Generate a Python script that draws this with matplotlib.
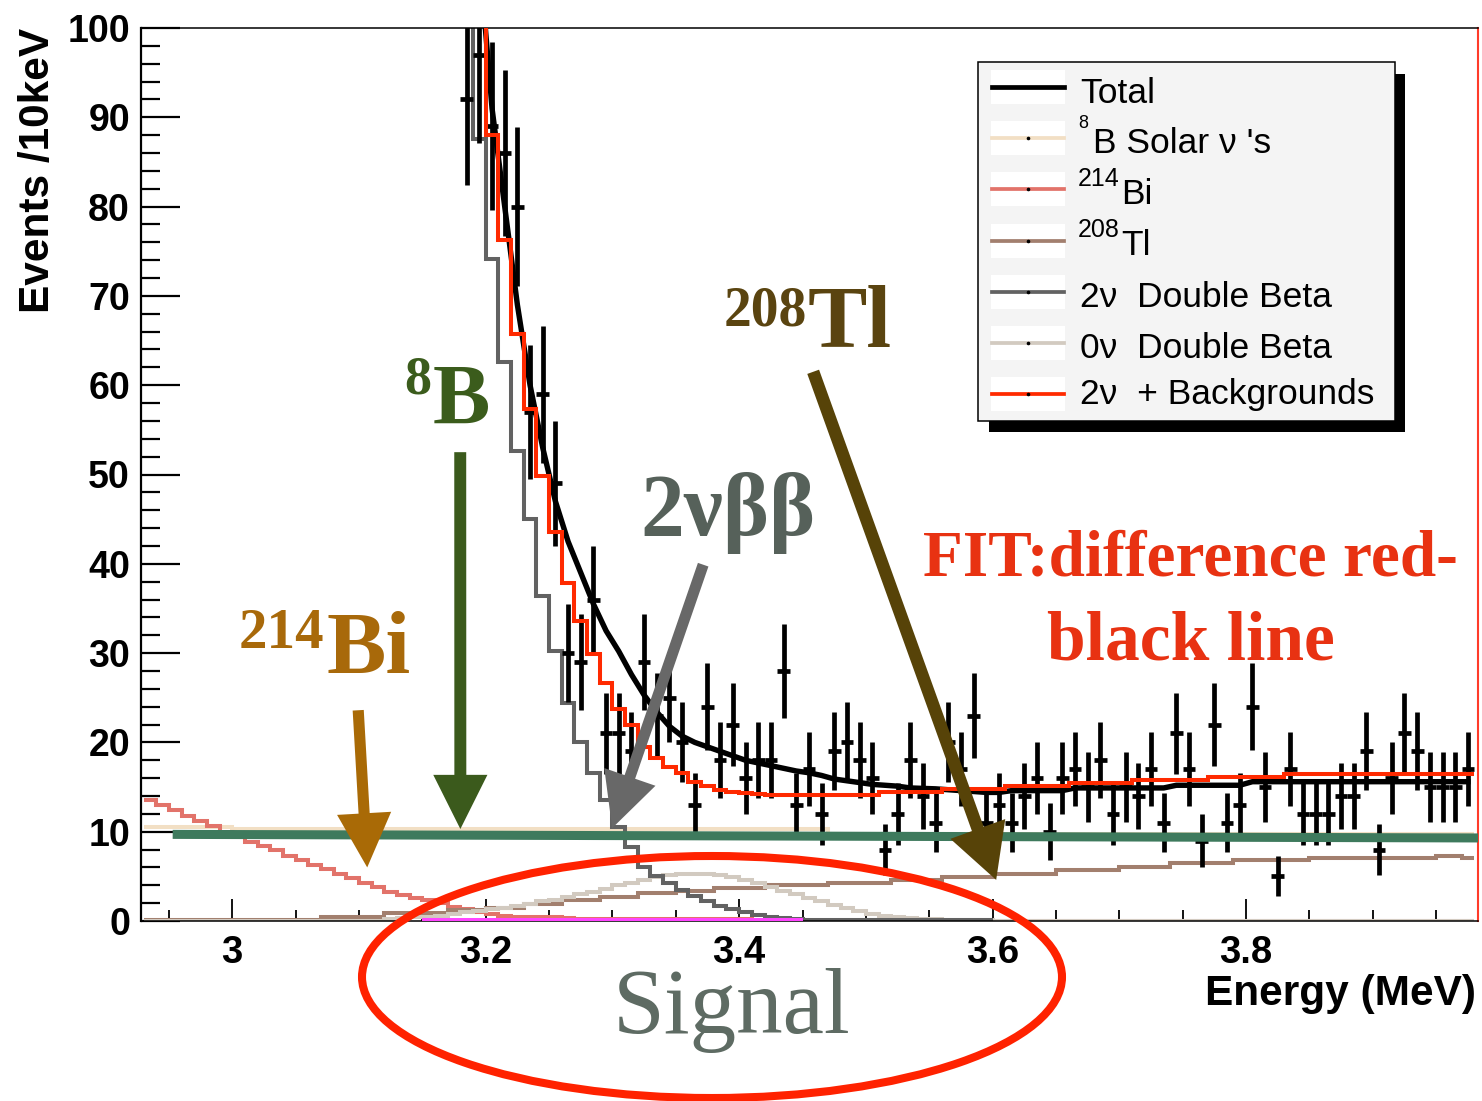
import numpy as np
import matplotlib
matplotlib.use("Agg")
import matplotlib.pyplot as plt
from matplotlib.patches import Rectangle, Ellipse
from matplotlib.ticker import MultipleLocator, FixedLocator, FixedFormatter

plt.rcParams['font.family'] = ['Liberation Sans', 'DejaVu Sans']

# ---------------- spectrum data (10 keV bins) ----------------
first_edge = 2.93
bin_width = 0.01

# 8B solar neutrinos, bins from 2.93 MeV
solar_8b = [
    10.5, 10.5, 10.5, 10.5, 10.5, 10.5, 10.5, 10.25, 10.25, 10.25,
    10.25, 10.25, 10.25, 10.25, 10.25, 10.25, 10.25, 10.25, 10.25, 10.25,
    10.25, 10.25, 10.25, 10.25, 10.25, 10.25, 10.25, 10.25, 10.25, 10.25,
    10.25, 10.25, 10.25, 10.25, 10.25, 10.25, 10.25, 10.25, 10.25, 10.25,
    10.25, 10.25, 10.25, 10.25, 10.25, 10.25, 10.25, 10.25, 10.25, 10.25,
    10.25, 10.25, 10.25, 10.25, 9.7, 9.7, 9.7, 9.7, 9.7, 9.7,
    9.7, 9.7, 9.7, 9.7, 9.7, 9.7, 9.7, 9.7, 9.7, 9.7,
    9.7, 9.7, 9.7, 9.7, 9.7, 9.7, 9.7, 9.7, 9.7, 9.7,
    9.7, 9.7, 9.7, 9.7, 9.7, 9.7, 9.7, 9.7, 9.7, 9.7,
    9.7, 9.7, 9.7, 9.7, 9.7, 9.7, 9.7, 9.7, 9.7, 9.7,
    9.7, 9.7, 9.7, 9.7, 9.7,
]

# 214Bi, bins from 2.93 MeV
bi214 = [
    13.6, 13.0, 12.4, 11.8, 11.2, 10.6, 10.0, 9.5, 8.9, 8.4,
    7.9, 7.3, 6.8, 6.3, 5.8, 5.3, 4.8, 4.3, 3.8, 3.3,
    2.9, 2.6, 2.3, 2.0, 1.6, 1.3, 1.0, 0.8, 0.6, 0.5,
    0.45, 0.45, 0.4, 0.35, 0.25, 0.25, 0.25, 0.25, 0.25, 0.25,
    0.25, 0.25, 0.25, 0.25, 0.25, 0.25, 0.25, 0.25, 0.0, 0.0,
    0.0, 0.0, 0.0, 0.0, 0.0, 0.0, 0.0, 0.0, 0.0, 0.0,
    0.0, 0.0, 0.0, 0.0, 0.0, 0.0, 0.0, 0.0, 0.0, 0.0,
    0.0, 0.0, 0.0, 0.0, 0.0, 0.0, 0.0, 0.0, 0.0, 0.0,
    0.0, 0.0, 0.0, 0.0, 0.0, 0.0, 0.0, 0.0, 0.0, 0.0,
    0.0, 0.0, 0.0, 0.0, 0.0, 0.0, 0.0, 0.0, 0.0, 0.0,
    0.0, 0.0, 0.0, 0.0, 0.0,
]

# 208Tl, bins from 2.93 MeV
tl208 = [
    0.15, 0.15, 0.15, 0.15, 0.15, 0.15, 0.15, 0.15, 0.15, 0.15,
    0.15, 0.15, 0.15, 0.15, 0.5, 0.5, 0.5, 0.5, 0.5, 0.9,
    0.9, 0.9, 0.9, 0.9, 1.2, 1.2, 1.2, 1.5, 1.5, 1.5,
    1.9, 1.9, 1.9, 2.3, 2.3, 2.3, 2.7, 2.7, 2.7, 3.1,
    3.1, 3.1, 3.4, 3.4, 3.4, 3.7, 3.7, 3.7, 3.7, 4.0,
    4.0, 4.0, 4.0, 4.0, 4.3, 4.3, 4.3, 4.3, 4.3, 4.6,
    4.6, 4.6, 4.6, 4.9, 4.9, 4.9, 4.9, 5.3, 5.3, 5.3,
    5.3, 5.3, 5.7, 5.7, 5.7, 5.7, 5.7, 6.1, 6.1, 6.1,
    6.1, 6.5, 6.5, 6.5, 6.5, 6.5, 6.8, 6.8, 6.8, 6.8,
    6.8, 6.8, 7.1, 7.1, 7.1, 7.1, 7.1, 7.1, 7.1, 7.1,
    7.1, 7.1, 7.3, 7.3, 7.0,
]

# 0nu double beta, bins from 2.93 MeV
zeronu_bb = [
    0.0, 0.0, 0.0, 0.0, 0.0, 0.0, 0.0, 0.0, 0.0, 0.0,
    0.0, 0.0, 0.0, 0.0, 0.0, 0.0, 0.0, 0.0, 0.0, 0.2,
    0.3, 0.4, 0.5, 0.6, 0.8, 1.0, 1.1, 1.3, 1.5, 1.7,
    1.9, 2.2, 2.4, 2.7, 3.0, 3.3, 3.6, 4.0, 4.3, 4.6,
    4.9, 5.1, 5.3, 5.3, 5.3, 5.1, 4.9, 4.6, 4.2, 3.8,
    3.4, 3.0, 2.6, 2.2, 1.8, 1.4, 1.1, 0.8, 0.6, 0.45,
    0.35, 0.25, 0.2, 0.15, 0.1, 0.1, 0.1, 0.0, 0.0, 0.0,
    0.0, 0.0, 0.0, 0.0, 0.0, 0.0, 0.0, 0.0, 0.0, 0.0,
    0.0, 0.0, 0.0, 0.0, 0.0, 0.0, 0.0, 0.0, 0.0, 0.0,
    0.0, 0.0, 0.0, 0.0, 0.0, 0.0, 0.0, 0.0, 0.0, 0.0,
    0.0, 0.0, 0.0, 0.0, 0.0,
]

# 2nu double beta, bins from 3.17 MeV
twonu_start = 3.17
twonu_bb = [
    160.0, 130.0, 87.6, 74.1, 62.6, 52.6, 45.0, 36.4, 30.2, 24.4,
    20.0, 16.6, 13.6, 10.5, 8.3, 6.0, 5.0, 4.3, 3.5, 2.8,
    2.2, 1.7, 1.3, 1.0, 0.7, 0.5, 0.35, 0.2, 0.15, 0.1,
    0.1, 0.1, 0.1, 0.1, 0.1, 0.1, 0.1, 0.1, 0.1, 0.1,
    0.1, 0.1, 0.1,
]

# 2nu + backgrounds, bins from 3.18 MeV
sum_start = 3.18
twonu_plus_bkg = [
    140.0, 112.0, 88.0, 76.3, 65.7, 57.3, 49.8, 43.6, 37.9, 33.6,
    29.9, 26.7, 23.7, 22.0, 19.5, 18.3, 17.3, 16.6, 15.6, 15.1,
    14.7, 14.5, 14.3, 14.2, 14.1, 14.1, 14.1, 14.1, 14.1, 14.1,
    14.1, 14.1, 14.1, 14.4, 14.4, 14.4, 14.4, 14.4, 14.8, 14.8,
    14.8, 14.8, 14.8, 15.1, 15.1, 15.1, 15.1, 15.1, 15.4, 15.4,
    15.4, 15.4, 15.4, 15.8, 15.8, 15.8, 15.8, 15.8, 15.8, 16.1,
    16.1, 16.1, 16.1, 16.1, 16.1, 16.5, 16.5, 16.5, 16.5, 16.5,
    16.5, 16.5, 16.5, 16.5, 16.5, 16.5, 16.5, 16.5, 16.5, 16.5,
]

# total fit, bin centres from 3.195 MeV
total_start = 3.195
total_fit = [
    108.0, 91.0, 80.0, 69.0, 60.0, 53.0, 47.0, 42.5, 39.0, 35.5,
    32.5, 30.2, 27.6, 25.3, 23.4, 21.8, 20.7, 20.0, 19.5, 19.0,
    18.5, 18.0, 17.7, 17.4, 17.1, 16.8, 16.6, 16.3, 15.9, 15.7,
    15.5, 15.3, 15.2, 15.1, 14.9, 14.85, 14.8, 14.7, 14.6, 14.5,
    14.4, 14.4, 14.6, 14.6, 14.6, 14.6, 14.6, 14.9, 14.9, 14.9,
    14.9, 14.9, 14.9, 14.9, 14.9, 15.2, 15.2, 15.2, 15.2, 15.2,
    15.2, 15.6, 15.6, 15.6, 15.6, 15.6, 15.6, 15.6, 15.6, 15.6,
    15.6, 15.6, 15.6, 15.6, 15.6, 15.6, 15.6, 15.6, 15.6,
]

# measured events, bin centres from 3.185 MeV
data_start = 3.185
data_counts = [
    92, 97, 89, 86, 80, 57, 59, 49, 30, 29,
    36, 21, 21, 19, 29, 23, 25, 20, 13, 24,
    18, 22, 16, 18, 18, 28, 13, 17, 12, 19,
    20, 18, 16, 8, 12, 18, 14, 11, 20, 17,
    23, 11, 13, 11, 14, 16, 10, 16, 17, 15,
    18, 12, 15, 14, 17, 11, 21, 17, 9, 22,
    11, 13, 24, 15, 5, 17, 12, 12, 12, 14,
    14, 19, 8, 16, 21, 19, 15, 15, 15, 17,
]

# small component along the baseline, bins from 3.15 MeV
extra_start = 3.15
extra_bkg = [
    0.15, 0.15, 0.15, 0.15, 0.15, 0.15, 0.15, 0.15, 0.15, 0.15,
    0.15, 0.15, 0.15, 0.15, 0.15, 0.15, 0.15, 0.15, 0.15, 0.15,
    0.15, 0.15, 0.15, 0.15, 0.15, 0.15, 0.15, 0.15, 0.15, 0.15,
]

x_ticks = [3.0, 3.2, 3.4, 3.6, 3.8]
x_tick_labels = ['3', '3.2', '3.4', '3.6', '3.8']
y_ticks = [0, 10, 20, 30, 40, 50, 60, 70, 80, 90, 100]
y_tick_labels = ['0', '10', '20', '30', '40', '50', '60', '70', '80', '90', '100']

legend_labels = ['Total', 'B Solar ν \'s', 'Bi', 'Tl', '2ν  Double Beta',
                 '0ν  Double Beta', '2ν  + Backgrounds']
legend_sups = ['', '8', '214', '208', '', '', '']

# ---------------- colours ----------------
c_total = 'black'
c_8b = '#f2dfc4'
c_bi = '#e2736a'
c_tl = '#a27f6e'
c_2nu = '#626262'
c_0nu = '#d2cac0'
c_sum = '#ff2a00'
c_extra = '#ff44ff'

# ---------------- figure ----------------
W, H = 1482, 1101
fig = plt.figure(figsize=(W / 100, H / 100), dpi=100)
fig.patch.set_facecolor('white')


def fx(px):
    return px / W


def fy(py):
    return 1 - py / H


ax = fig.add_axes([fx(141), fy(921), fx(1478) - fx(141), fy(28) - fy(921)])
ax.set_xlim(2.928, 3.983)
ax.set_ylim(0, 100)


def edges(start, n):
    return np.round(start + bin_width * np.arange(n + 1), 4)


lw_h = 2.9
ax.stairs(solar_8b, edges(first_edge, len(solar_8b)), baseline=None, color=c_8b, lw=lw_h, zorder=2)
ax.stairs(bi214, edges(first_edge, len(bi214)), baseline=None, color=c_bi, lw=lw_h, zorder=2.1)
ax.stairs(tl208, edges(first_edge, len(tl208)), baseline=None, color=c_tl, lw=lw_h, zorder=2.2)
ax.stairs(zeronu_bb, edges(first_edge, len(zeronu_bb)), baseline=None, color=c_0nu, lw=lw_h, zorder=2.3)
ax.stairs(twonu_bb, edges(twonu_start, len(twonu_bb)), baseline=None, color=c_2nu, lw=lw_h, zorder=2.5)
ax.stairs(extra_bkg, edges(extra_start, len(extra_bkg)), baseline=None, color=c_extra, lw=lw_h, zorder=2.6)

total_x = np.round(total_start + bin_width * np.arange(len(total_fit)), 4)
ax.plot(total_x, total_fit, color=c_total, lw=3.9, zorder=3, solid_joinstyle='round')

data_x = np.round(data_start + bin_width * np.arange(len(data_counts)), 4)
data_y = np.array(data_counts, dtype=float)
ax.errorbar(data_x, data_y, yerr=np.sqrt(data_y), xerr=bin_width / 2, fmt='none',
            ecolor='black', elinewidth=3.4, capsize=0, zorder=3.5)

ax.stairs(twonu_plus_bkg, edges(sum_start, len(twonu_plus_bkg)), baseline=None,
          color=c_sum, lw=lw_h, zorder=4)

# ---------------- axes styling ----------------
ax.xaxis.set_major_locator(FixedLocator(x_ticks))
ax.xaxis.set_major_formatter(FixedFormatter(x_tick_labels))
ax.xaxis.set_minor_locator(MultipleLocator(0.05))
ax.yaxis.set_major_locator(FixedLocator(y_ticks))
ax.yaxis.set_major_formatter(FixedFormatter(y_tick_labels))
ax.yaxis.set_minor_locator(MultipleLocator(2))
ax.tick_params(axis='y', which='major', direction='in', length=28, width=1.6, pad=8, labelsize=27)
ax.tick_params(axis='y', which='minor', direction='in', length=14, width=1.6)
ax.tick_params(axis='x', which='major', direction='in', length=16, width=1.3, pad=10, labelsize=27.5)
ax.tick_params(axis='x', which='minor', direction='in', length=8, width=1.3)
ax.tick_params(top=False, right=False, which='both')
for lab in ax.get_xticklabels() + ax.get_yticklabels():
    lab.set_fontweight('bold')
ax.spines['left'].set_linewidth(1.6)
ax.spines['top'].set_linewidth(1.1)
ax.spines['bottom'].set_linewidth(1.1)
ax.spines['right'].set_linewidth(1.5)
ax.spines['right'].set_color('#ff3b2a')

fig.text(fx(38), fy(28), 'Events /10keV', rotation=90, ha='center', va='top',
         fontsize=30.5, fontweight='bold')
fig.text(fx(1476), fy(1005), 'Energy (MeV)', ha='right', va='baseline',
         fontsize=30.5, fontweight='bold')

# ---------------- legend ----------------
shadow = Rectangle((fx(989), fy(432)), fx(1405) - fx(989), fy(74) - fy(432),
                   transform=fig.transFigure, facecolor='black', edgecolor='none', zorder=20)
box = Rectangle((fx(978), fy(421)), fx(1395) - fx(978), fy(62) - fy(421),
                transform=fig.transFigure, facecolor='#f4f4f4', edgecolor='black',
                lw=1.1, zorder=21)
fig.add_artist(shadow)
fig.add_artist(box)

legend_colors = [c_total, c_8b, c_bi, c_tl, c_2nu, c_0nu, c_sum]
row_y = [87, 138, 189, 241, 292, 343, 394]
text_base = [103, 153, 204, 255, 307, 358, 404]
sup_base = [0, 128, 186, 237, 0, 0, 0]
sup_size = [0, 13, 18, 18, 0, 0, 0]
text_x = [1080, 1093, 1121, 1121, 1080, 1080, 1080]
for i, (lab, col) in enumerate(zip(legend_labels, legend_colors)):
    y = row_y[i]
    fig.add_artist(Rectangle((fx(991), fy(y + 17)), fx(1065) - fx(991), fy(y - 17) - fy(y + 17),
                             transform=fig.transFigure, facecolor='white', edgecolor='none',
                             zorder=22))
    lw = 3.4 if i == 0 else 2.7
    fig.add_artist(plt.Line2D([fx(992), fx(1064)], [fy(y), fy(y)], transform=fig.transFigure,
                              color=col, lw=lw, zorder=23))
    if i > 0:
        fig.add_artist(plt.Line2D([fx(1028)], [fy(y)], transform=fig.transFigure, marker='o',
                                  markersize=1.6, color='black', lw=0, zorder=24))
    if legend_sups[i]:
        fig.text(fx(1078), fy(sup_base[i]), legend_sups[i], fontsize=sup_size[i],
                 ha='left', va='baseline', zorder=24)
    fig.text(fx(text_x[i]), fy(text_base[i]), lab, fontsize=25.5, ha='left',
             va='baseline', zorder=24)

# ---------------- annotations ----------------
serif = 'Liberation Serif'

# separation line at the flat background level
ax.plot([2.953, 3.983], [9.7, 9.3], color='#3e7a5d', lw=6.5, solid_capstyle='butt',
        zorder=6, clip_on=False)


def arrow(x0, y0, x1, y1, color, tail=8.6, hw=39, hl=39):
    ax.annotate('', xy=(x1, y1), xytext=(x0, y0),
                arrowprops=dict(arrowstyle=f'simple,head_length={hl},head_width={hw},tail_width={tail}',
                                color=color, shrinkA=0, shrinkB=0, mutation_scale=1, lw=0),
                annotation_clip=False, zorder=7)


c_ann_tl = '#5a4410'
c_ann_8b = '#3b5c1c'
c_ann_bi = '#a8690a'
c_ann_2nu = '#56615a'

arrow(3.1799, 52.5, 3.18, 10.3, '#3b5a1c')
arrow(3.0994, 23.6, 3.1065, 6.0, '#a96a06', tail=8.0)
arrow(3.3716, 39.9, 3.2998, 10.4, '#686868', tail=8.0)
arrow(3.4584, 61.5, 3.6028, 4.6, '#574308', tail=9.0, hw=42)

fig.text(fx(724), fy(326), '208', fontsize=40, fontweight='bold', family=serif, color=c_ann_tl)
fig.text(fx(808), fy(347), 'Tl', fontsize=64, fontweight='bold', family=serif, color=c_ann_tl)
fig.text(fx(404), fy(394), '8', fontsize=39, fontweight='bold', family=serif, color=c_ann_8b)
fig.text(fx(433), fy(424), 'B', fontsize=62, fontweight='bold', family=serif, color=c_ann_8b)
fig.text(fx(239), fy(648), '214', fontsize=41, fontweight='bold', family=serif, color=c_ann_bi)
fig.text(fx(326), fy(673), 'Bi', fontsize=64, fontweight='bold', family=serif, color=c_ann_bi)
fig.text(fx(640), fy(535), '2νββ', fontsize=63, fontweight='bold', family=serif, color=c_ann_2nu)
fig.text(fx(1190), fy(575), 'FIT:difference red-', fontsize=47, fontweight='bold',
         family=serif, color='#e83212', ha='center')
fig.text(fx(1191), fy(660), 'black line', fontsize=50, fontweight='bold',
         family=serif, color='#e83212', ha='center')

ring = Ellipse((fx(712), fy(977)), 700 / W, 242 / H, transform=fig.transFigure,
               fill=False, edgecolor='#ff2200', lw=5.8, zorder=30)
fig.add_artist(ring)
fig.text(fx(732), fy(1033), 'Signal', fontsize=67, family=serif, color='#5e6b63',
         ha='center', zorder=31)

fig.savefig('out.png', dpi=100)
